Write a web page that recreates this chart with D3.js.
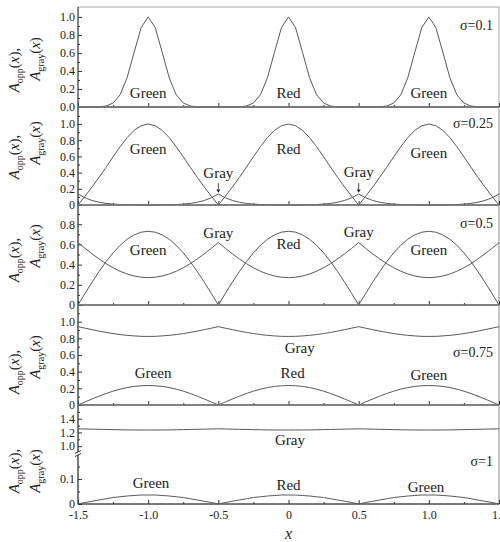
<!DOCTYPE html>
<html>
<head>
<meta charset="utf-8">
<script src="https://cdn.jsdelivr.net/npm/d3@7"></script>
<style>
  body { margin: 0; background: #fff; }
  svg, svg text { font-family: "Liberation Serif", "DejaVu Serif", serif; }
</style>
</head>
<body>
<div id="okvir"></div>
<script>
// 1. Podaci (ocitano sa slike, x od -1.5 do 1.5 s korakom 0.05)

const xMreza = d3.range(61).map(i => Math.round((-1.5 + i * 0.05) * 100) / 100)

const opp01 = [0,0,0,0.002,0.011,0.044,0.135,0.325,0.607,0.882,1,
  0.882,0.607,0.325,0.135,0.044,0.011,0.002,0,0,0,
  0,0,0.002,0.011,0.044,0.135,0.325,0.607,0.882,1,
  0.882,0.607,0.325,0.135,0.044,0.011,0.002,0,0,0,
  0,0,0.002,0.011,0.044,0.135,0.325,0.607,0.882,1,
  0.882,0.607,0.325,0.135,0.044,0.011,0.002,0,0,0]
const gray01 = [0,0,0,0,0,0,0,0,0,0,0,
  0,0,0,0,0,0,0,0,0,0,
  0,0,0,0,0,0,0,0,0,0,
  0,0,0,0,0,0,0,0,0,0,
  0,0,0,0,0,0,0,0,0,0,
  0,0,0,0,0,0,0,0,0,0]

const opp025 = [0,0.109,0.222,0.341,0.467,0.595,0.72,0.832,0.922,0.979,0.999,
  0.979,0.922,0.832,0.72,0.595,0.467,0.341,0.222,0.109,0,
  0.109,0.222,0.341,0.467,0.595,0.72,0.832,0.922,0.979,0.999,
  0.979,0.922,0.832,0.72,0.595,0.467,0.341,0.222,0.109,0,
  0.109,0.222,0.341,0.467,0.595,0.72,0.832,0.922,0.979,0.999,
  0.979,0.922,0.832,0.72,0.595,0.467,0.341,0.222,0.109,0]
const gray025 = [0.135,0.089,0.056,0.034,0.02,0.011,0.006,0.003,0.002,0.001,0.001,
  0.001,0.002,0.003,0.006,0.011,0.02,0.034,0.056,0.089,0.135,
  0.089,0.056,0.034,0.02,0.011,0.006,0.003,0.002,0.001,0.001,
  0.001,0.002,0.003,0.006,0.011,0.02,0.034,0.056,0.089,0.135,
  0.089,0.056,0.034,0.02,0.011,0.006,0.003,0.002,0.001,0.001,
  0.001,0.002,0.003,0.006,0.011,0.02,0.034,0.056,0.089,0.135]

const opp05 = [0,0.114,0.226,0.331,0.429,0.516,0.591,0.651,0.694,0.721,0.73,
  0.721,0.694,0.651,0.591,0.516,0.429,0.331,0.226,0.114,0,
  0.114,0.226,0.331,0.429,0.516,0.591,0.651,0.694,0.721,0.73,
  0.721,0.694,0.651,0.591,0.516,0.429,0.331,0.226,0.114,0,
  0.114,0.226,0.331,0.429,0.516,0.591,0.651,0.694,0.721,0.73,
  0.721,0.694,0.651,0.591,0.516,0.429,0.331,0.226,0.114,0]
const gray05 = [0.618,0.561,0.507,0.456,0.409,0.369,0.334,0.307,0.287,0.275,0.271,
  0.275,0.287,0.307,0.334,0.369,0.409,0.456,0.507,0.561,0.618,
  0.561,0.507,0.456,0.409,0.369,0.334,0.307,0.287,0.275,0.271,
  0.275,0.287,0.307,0.334,0.369,0.409,0.456,0.507,0.561,0.618,
  0.561,0.507,0.456,0.409,0.369,0.334,0.307,0.287,0.275,0.271,
  0.275,0.287,0.307,0.334,0.369,0.409,0.456,0.507,0.561,0.618]

const opp075 = [0,0.037,0.072,0.106,0.138,0.166,0.19,0.209,0.223,0.231,0.234,
  0.231,0.223,0.209,0.19,0.166,0.138,0.106,0.072,0.037,0,
  0.037,0.072,0.106,0.138,0.166,0.19,0.209,0.223,0.231,0.234,
  0.231,0.223,0.209,0.19,0.166,0.138,0.106,0.072,0.037,0,
  0.037,0.072,0.106,0.138,0.166,0.19,0.209,0.223,0.231,0.234,
  0.231,0.223,0.209,0.19,0.166,0.138,0.106,0.072,0.037,0]
const gray075 = [0.94,0.922,0.904,0.887,0.871,0.857,0.845,0.836,0.829,0.824,0.823,
  0.824,0.829,0.836,0.845,0.857,0.871,0.887,0.904,0.922,0.94,
  0.922,0.904,0.887,0.871,0.857,0.845,0.836,0.829,0.824,0.823,
  0.824,0.829,0.836,0.845,0.857,0.871,0.887,0.904,0.922,0.94,
  0.922,0.904,0.887,0.871,0.857,0.845,0.836,0.829,0.824,0.823,
  0.824,0.829,0.836,0.845,0.857,0.871,0.887,0.904,0.922,0.94]

const opp1 = [0,0.006,0.011,0.016,0.021,0.026,0.029,0.032,0.034,0.036,0.036,
  0.036,0.034,0.032,0.029,0.026,0.021,0.016,0.011,0.006,0,
  0.006,0.011,0.016,0.021,0.026,0.029,0.032,0.034,0.036,0.036,
  0.036,0.034,0.032,0.029,0.026,0.021,0.016,0.011,0.006,0,
  0.006,0.011,0.016,0.021,0.026,0.029,0.032,0.034,0.036,0.036,
  0.036,0.034,0.032,0.029,0.026,0.021,0.016,0.011,0.006,0]
const gray1 = [1.253,1.25,1.248,1.245,1.243,1.241,1.239,1.237,1.236,1.235,1.235,
  1.235,1.236,1.237,1.239,1.241,1.243,1.245,1.248,1.25,1.253,
  1.25,1.248,1.245,1.243,1.241,1.239,1.237,1.236,1.235,1.235,
  1.235,1.236,1.237,1.239,1.241,1.243,1.245,1.248,1.25,1.253,
  1.25,1.248,1.245,1.243,1.241,1.239,1.237,1.236,1.235,1.235,
  1.235,1.236,1.237,1.239,1.241,1.243,1.245,1.248,1.25,1.253]

const sigme = ["σ=0.1", "σ=0.25", "σ=0.5", "σ=0.75", "σ=1"]
const xOznake = [-1.5, -1.0, -0.5, 0, 0.5, 1.0, 1.5]

// natpisi u koordinatama podataka
const natpisi = [
  [["Green", -1, 0.16], ["Red", 0, 0.16], ["Green", 1, 0.16]],
  [["Green", -1, 0.69], ["Gray", -0.5, 0.40], ["Red", 0, 0.70], ["Gray", 0.5, 0.41], ["Green", 1, 0.65]],
  [["Green", -1, 0.55], ["Gray", -0.5, 0.72], ["Red", 0, 0.61], ["Gray", 0.5, 0.73], ["Green", 1, 0.545]],
  [["Green", -0.965, 0.385], ["Gray", 0.08, 0.69], ["Red", 0.03, 0.385], ["Green", 1, 0.36]],
  [["Green", -0.98, 0.084], ["Gray", 0.01, 1.09], ["Red", 0, 0.076], ["Green", 0.98, 0.068]],
]
const sigmaY = [0.91, 1.01, 0.81, 0.64, 0.172]

// 2. Dimenzije

const dim = { sirina: 500, visina: 542, lijevo: 78, desno: 499 }
const FONT = '"Liberation Serif", "DejaVu Serif", serif'
const fmt1 = d3.format(".1f")
const fmt0 = d => d === 0 ? "0" : fmt1(d)

const paneli = [
  { top: 7, bottom: 107, osi: [{ domain: [0, 1.11], ticks: [0, 0.2, 0.4, 0.6, 0.8, 1.0], minor: [0.1, 0.3, 0.5, 0.7, 0.9], fmt: fmt1 }],
    opp: opp01, gray: gray01, ylab: [70, 59] },
  { top: 107, bottom: 205, osi: [{ domain: [0, 1.21], ticks: [0, 0.2, 0.4, 0.6, 0.8, 1.0], minor: [0.1, 0.3, 0.5, 0.7, 0.9, 1.1], fmt: fmt0 }],
    opp: opp025, gray: gray025, ylab: [157, 143] },
  { top: 205, bottom: 305, osi: [{ domain: [0, 0.99], ticks: [0, 0.2, 0.4, 0.6, 0.8], minor: [0.1, 0.3, 0.5, 0.7, 0.9], fmt: fmt0 }],
    opp: opp05, gray: gray05, ylab: [260, 246] },
  { top: 305, bottom: 405, osi: [{ domain: [0, 1.2], ticks: [0, 0.2, 0.4, 0.6, 0.8, 1.0], minor: [0.1, 0.3, 0.5, 0.7, 0.9, 1.1], fmt: fmt0 }],
    opp: opp075, gray: gray075, ylab: [372, 357] },
  { top: 405, bottom: 504, osi: [
      { domain: [0, 0.2], range: [504, 454], ticks: [0, 0.1], minor: [0.05, 0.15], fmt: fmt0 },
      { domain: [0.9, 1.6], range: [453, 405], ticks: [1.0, 1.2, 1.4], minor: [1.1, 1.3, 1.5], fmt: fmt1 }],
    opp: opp1, gray: gray1, ylab: [471, 471], prekid: 453.5 },
]

// 3. Platno

const svg = d3.select("#okvir").append("svg")
  .attr("width", dim.sirina)
  .attr("height", dim.visina)
  .attr("font-family", FONT)

const xSkala = d3.scaleLinear()
  .domain([-1.5, 1.5])
  .range([dim.lijevo, dim.desno])

const boja = "#333"
const bojaLinije = "#5a5a5a"

paneli.forEach((p, pi) => {
  const g = svg.append("g").attr("font-family", FONT)

  p.osi.forEach(o => {
    o.skala = d3.scaleLinear().domain(o.domain).range(o.range || [p.bottom, p.top])
  })
  const yOd = v => (p.osi.length > 1 && v > 0.5) ? p.osi[1].skala(v) : p.osi[0].skala(v)

  // okvir
  g.append("rect")
    .attr("x", dim.lijevo).attr("y", p.top)
    .attr("width", dim.desno - dim.lijevo).attr("height", p.bottom - p.top)
    .attr("fill", "none").attr("stroke", pi === 0 ? "#aaa" : "#888").attr("stroke-width", 1)
  g.append("line")
    .attr("x1", dim.lijevo).attr("x2", dim.desno)
    .attr("y1", p.bottom).attr("y2", p.bottom)
    .attr("stroke", boja)
  g.append("line")
    .attr("x1", dim.lijevo).attr("x2", dim.lijevo)
    .attr("y1", p.top).attr("y2", p.bottom)
    .attr("stroke", boja)

  // y osi
  p.osi.forEach(o => {
    const os = g.append("g")
      .attr("transform", `translate(${dim.lijevo},0)`)
      .call(d3.axisLeft(o.skala).tickValues(o.ticks).tickSize(-4).tickPadding(3).tickFormat(o.fmt))
      .attr("font-family", FONT).attr("font-size", 12)
    os.select(".domain").remove()
    os.selectAll("line").attr("stroke", boja)
    os.selectAll("text").attr("fill", "#222")
    const mos = g.append("g")
      .attr("transform", `translate(${dim.lijevo},0)`)
      .call(d3.axisLeft(o.skala).tickValues(o.minor).tickSize(-2).tickFormat(""))
    mos.select(".domain").remove()
    mos.selectAll("line").attr("stroke", boja)
  })

  // x os
  const xos = g.append("g")
    .attr("transform", `translate(0,${p.bottom})`)
    .call(d3.axisBottom(xSkala).tickValues(xOznake).tickSize(-4).tickPadding(6)
      .tickFormat(pi === paneli.length - 1 ? (d => d === 0 ? "0" : d.toFixed(1)) : ""))
    .attr("font-family", FONT).attr("font-size", 12)
  xos.select(".domain").remove()
  xos.selectAll("line").attr("stroke", boja)
  xos.selectAll("text").attr("fill", "#222")
  const xmos = g.append("g")
    .attr("transform", `translate(0,${p.bottom})`)
    .call(d3.axisBottom(xSkala).tickValues([-1.25, -0.75, -0.25, 0.25, 0.75, 1.25]).tickSize(-2).tickFormat(""))
  xmos.select(".domain").remove()
  xmos.selectAll("line").attr("stroke", boja)

  // prekid osi
  if (p.prekid) {
    g.append("rect").attr("x", dim.lijevo - 3).attr("y", p.prekid - 1.5).attr("width", 6).attr("height", 3).attr("fill", "#fff")
    ;[-1.5, 1.5].forEach(dy => {
      g.append("line")
        .attr("x1", dim.lijevo - 3).attr("y1", p.prekid + dy + 1.5)
        .attr("x2", dim.lijevo + 3).attr("y2", p.prekid + dy - 1.5)
        .attr("stroke", boja)
    })
  }

  // linije
  const generatorLinije = d3.line()
    .x((d, i) => xSkala(xMreza[i]))
    .y(d => yOd(d))

  ;[p.gray, p.opp].forEach(niz => {
    g.append("path")
      .attr("d", generatorLinije(niz))
      .attr("fill", "none")
      .attr("stroke", bojaLinije)
      .attr("stroke-width", 1)
  })

  // natpisi
  natpisi[pi].forEach(([t, xv, yv]) => {
    g.append("text")
      .attr("x", xSkala(xv)).attr("y", yOd(yv))
      .attr("dy", "0.35em")
      .attr("text-anchor", "middle")
      .attr("fill", "#222")
      .attr("font-size", 15)
      .text(t)
  })
  g.append("text")
    .attr("x", 493).attr("y", yOd(sigmaY[pi]))
    .attr("dy", "0.35em")
    .attr("text-anchor", "end")
    .attr("fill", "#222")
    .attr("font-size", 14)
    .text(sigme[pi])

  // strelice za Gray (sigma=0.25)
  if (pi === 1) {
    ;[-0.5, 0.5].forEach(xv => {
      const x0 = xSkala(xv)
      g.append("line")
        .attr("x1", x0).attr("x2", x0)
        .attr("y1", yOd(0.27)).attr("y2", yOd(0.19))
        .attr("stroke", "#222").attr("stroke-width", 0.8)
      g.append("path")
        .attr("d", `M${x0 - 2},${yOd(0.19)} L${x0 + 2},${yOd(0.19)} L${x0},${yOd(0.15)} Z`)
        .attr("fill", "#222")
    })
  }

  // oznaka y osi
  const redovi = [["opp", "(", "x", "),"], ["gray", "(", "x", ")"]]
  redovi.forEach((r, ri) => {
    const tx = ri === 0 ? 19 : 40
    const t = g.append("text")
      .attr("transform", `translate(${tx},${p.ylab[ri]}) rotate(-90)`)
      .attr("text-anchor", "middle")
      .attr("fill", "#222")
      .attr("font-size", 15)
    t.append("tspan").attr("font-style", "italic").text("A")
    t.append("tspan").attr("dy", 4).attr("font-size", 10).text(r[0])
    t.append("tspan").attr("dy", -4).text(r[1])
    t.append("tspan").attr("font-style", "italic").text(r[2])
    t.append("tspan").text(r[3])
  })
})

svg.append("text")
  .attr("x", xSkala(0)).attr("y", 539)
  .attr("text-anchor", "middle")
  .attr("fill", "#222")
  .attr("font-size", 16)
  .attr("font-style", "italic")
  .text("x")
</script>
</body>
</html>
